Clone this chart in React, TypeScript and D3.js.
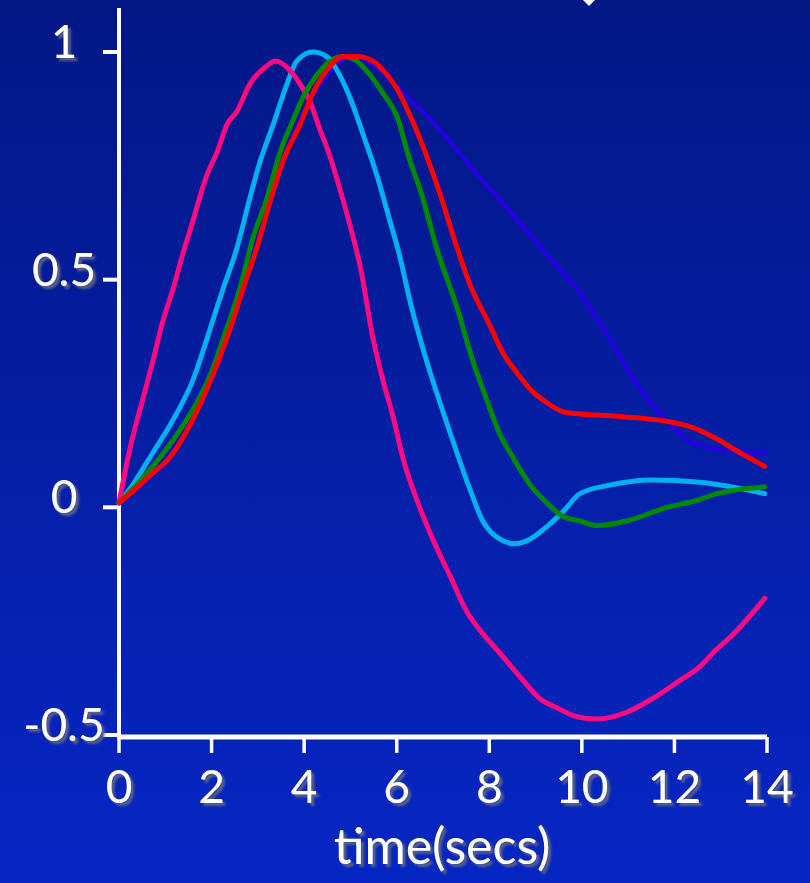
import React from "react";
import * as d3 from "d3";

// ---- data (time in secs, response value) ----
const xTicks = [0, 2, 4, 6, 8, 10, 12, 14];
const yTicks = [-0.5, 0, 0.5, 1];
const yTickLabels = ["-0.5", "0", "0.5", "1"];
const xLabel = "time(secs)";

const pinkSeries: [number, number][] = [
  [0, 0.01], [0.24, 0.13], [0.52, 0.24], [0.73, 0.32], [0.95, 0.41], [1.17, 0.48],
  [1.36, 0.55], [1.6, 0.63], [1.9, 0.73], [2.12, 0.78], [2.33, 0.84], [2.55, 0.87],
  [2.83, 0.93], [3.2, 0.97], [3.37, 0.98], [3.69, 0.96], [3.91, 0.93], [4.13, 0.89],
  [4.34, 0.83], [4.56, 0.77], [4.77, 0.7], [4.99, 0.62], [5.21, 0.53], [5.49, 0.37],
  [5.7, 0.28], [5.92, 0.2], [6.13, 0.11], [6.44, 0.015], [6.78, -0.07], [7.15, -0.15],
  [7.52, -0.23], [7.8, -0.27], [8.23, -0.32], [8.73, -0.38], [9.09, -0.42], [9.46, -0.44],
  [9.89, -0.46], [10.32, -0.465], [10.97, -0.45], [11.53, -0.42], [12.12, -0.38],
  [12.55, -0.35], [12.83, -0.32], [13.26, -0.28], [13.95, -0.2],
];

const cyanSeries: [number, number][] = [
  [0, 0.01], [0.3, 0.05], [0.67, 0.11], [1.04, 0.17], [1.32, 0.22], [1.6, 0.28],
  [1.9, 0.37], [2.12, 0.44], [2.25, 0.48], [2.55, 0.57], [2.83, 0.68], [3.05, 0.76],
  [3.33, 0.84], [3.63, 0.93], [3.84, 0.98], [4.19, 1.0], [4.49, 0.99], [4.71, 0.96],
  [4.99, 0.9], [5.27, 0.82], [5.57, 0.73], [5.85, 0.63], [6.07, 0.55], [6.27, 0.46],
  [6.65, 0.32], [7.0, 0.21], [7.3, 0.12], [7.58, 0.04], [7.86, -0.03], [8.23, -0.07],
  [8.55, -0.08], [8.88, -0.07], [9.27, -0.04], [9.59, -0.01], [9.96, 0.03], [10.67, 0.05],
  [11.47, 0.06], [12.55, 0.055], [13.95, 0.03],
];

const greenSeries: [number, number][] = [
  [0, 0.01], [0.39, 0.05], [0.89, 0.11], [1.32, 0.17], [1.68, 0.23], [1.97, 0.29],
  [2.25, 0.37], [2.61, 0.48], [2.89, 0.59], [3.2, 0.68], [3.48, 0.78], [3.76, 0.85],
  [3.97, 0.9], [4.28, 0.95], [4.56, 0.98], [4.84, 0.99], [5.14, 0.98], [5.42, 0.95],
  [5.7, 0.91], [6.0, 0.86], [6.29, 0.76], [6.5, 0.7], [6.89, 0.56], [7.3, 0.44],
  [7.65, 0.32], [7.95, 0.235], [8.23, 0.16], [8.51, 0.11], [8.88, 0.05], [9.24, 0.01],
  [9.59, -0.02], [9.96, -0.03], [10.32, -0.04], [10.97, -0.03], [11.84, 0.0],
  [12.48, 0.015], [12.92, 0.03], [13.95, 0.045],
];

const redSeries: [number, number][] = [
  [0, 0.01], [0.24, 0.03], [0.67, 0.07], [1.1, 0.11], [1.53, 0.18], [1.9, 0.26],
  [2.18, 0.33], [2.46, 0.41], [2.68, 0.48], [2.98, 0.57], [3.26, 0.67], [3.54, 0.76],
  [3.91, 0.84], [4.19, 0.91], [4.49, 0.96], [4.84, 0.99], [5.14, 0.99], [5.49, 0.98],
  [5.79, 0.95], [6.0, 0.92], [6.29, 0.86], [6.5, 0.81], [6.93, 0.69], [7.32, 0.565],
  [7.58, 0.49], [8.01, 0.4], [8.29, 0.34], [8.6, 0.295], [8.88, 0.26], [9.24, 0.23],
  [9.59, 0.21], [9.96, 0.205], [10.76, 0.2], [12.05, 0.185], [12.4, 0.175],
  [12.92, 0.15], [13.41, 0.12], [13.95, 0.09],
];

const blueSeries: [number, number][] = [
  [0, 0.01], [0.5, 0.05], [1.0, 0.1], [1.5, 0.18], [2.0, 0.29], [2.5, 0.43],
  [3.0, 0.59], [3.5, 0.75], [4.0, 0.87], [4.5, 0.95], [5.0, 0.99], [5.5, 0.97],
  [5.85, 0.94], [6.35, 0.89], [6.93, 0.83], [7.58, 0.75], [8.01, 0.7], [8.7, 0.62],
  [9.37, 0.54], [9.89, 0.48], [10.54, 0.38], [11.25, 0.26], [11.84, 0.19],
  [12.18, 0.155], [12.76, 0.13], [13.95, 0.12],
];

const seriesList = [
  { name: "blue", data: blueSeries, color: "#2400e0", width: 4.5 },
  { name: "cyan", data: cyanSeries, color: "#00b0f0", width: 5 },
  { name: "pink", data: pinkSeries, color: "#ff0a82", width: 5 },
  { name: "green", data: greenSeries, color: "#008a00", width: 5 },
  { name: "red", data: redSeries, color: "#ff0000", width: 5 },
];

const W = 810;
const H = 883;
const FONT = "Lato, 'Open Sans', sans-serif";

export default function App() {
  const x = d3.scaleLinear().domain([0, 14]).range([119, 767]);
  const y = d3.scaleLinear().domain([-0.5, 1]).range([735, 52]);
  const line = d3
    .line<[number, number]>()
    .x((d) => x(d[0]))
    .y((d) => y(d[1]))
    .curve(d3.curveMonotoneX);

  const axisY = 737;
  const label = (key: string, tx: number, ty: number, text: string, size: number) => (
    <text key={key} x={tx} y={ty} fill="#ffffff" fontSize={size} fontFamily={FONT}
      textAnchor="middle" filter="url(#shadow)">{text}</text>
  );

  return (
    <svg width={W} height={H} style={{ position: "absolute", left: 0, top: 0, display: "block" }}>
      <defs>
        <linearGradient id="bg" x1="0" y1="0" x2="0" y2="1">
          <stop offset="0%" stopColor="#031786" />
          <stop offset="100%" stopColor="#0626c4" />
        </linearGradient>
        <filter id="shadow" x="-20%" y="-20%" width="150%" height="150%">
          <feDropShadow dx="3" dy="3" stdDeviation="1.2" floodColor="#5a6088" floodOpacity="1" />
        </filter>
      </defs>
      <rect x={0} y={0} width={W} height={H} fill="url(#bg)" />
      {/* partial white marker at top edge */}
      <path d="M583,0 L595,0 L589,6 Z" fill="#ffffff" />

      {/* axes */}
      <line x1={119} y1={8} x2={119} y2={axisY + 2} stroke="#fff" strokeWidth={4} />
      <line x1={117} y1={axisY} x2={767} y2={axisY} stroke="#fff" strokeWidth={5} />
      {xTicks.map((t) => (
        <line key={"xt" + t} x1={x(t)} x2={x(t)} y1={axisY} y2={753} stroke="#fff" strokeWidth={3.5} />
      ))}
      {yTicks.map((v) => (
        <line key={"yt" + v} x1={103} x2={119} y1={y(v)} y2={y(v)} stroke="#fff" strokeWidth={4} />
      ))}

      {/* tick labels */}
      {xTicks.map((t) => label("xl" + t, x(t), 803, String(t), 46))}
      {yTicks.map((v, i) => label("yl" + v, 64, y(v) + 6, yTickLabels[i], 46))}
      {label("xlabel", 442, 864, xLabel, 50)}

      {/* series */}
      {seriesList.map((s) => (
        <path key={s.name} d={line(s.data) || ""} fill="none" stroke={s.color}
          strokeWidth={s.width} strokeLinejoin="round" strokeLinecap="round" />
      ))}
    </svg>
  );
}
